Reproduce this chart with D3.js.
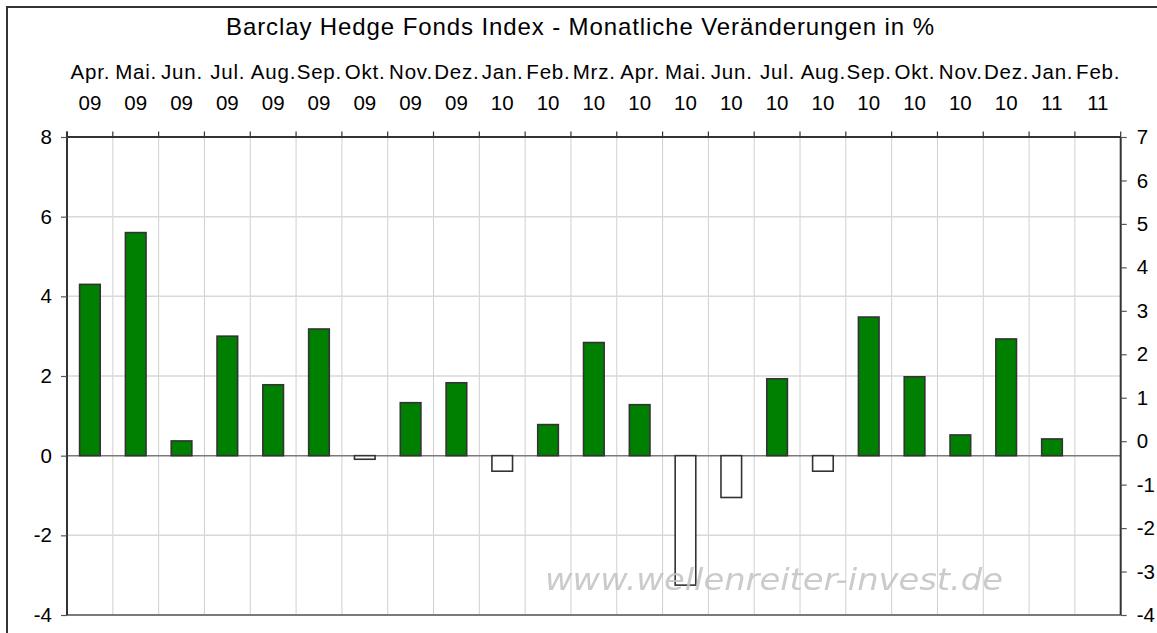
<!DOCTYPE html>
<html><head><meta charset="utf-8">
<script src="https://cdn.jsdelivr.net/npm/d3@7"></script>
<style>
html,body{margin:0;padding:0;background:#fff;}
svg{display:block;font-family:"Liberation Sans",Arial,sans-serif;}
</style></head>
<body>
<svg id="chart" width="1157" height="633"></svg>
<script>
const months = ["Apr.","Mai.","Jun.","Jul.","Aug.","Sep.","Okt.","Nov.","Dez.","Jan.","Feb.","Mrz.","Apr.","Mai.","Jun.","Jul.","Aug.","Sep.","Okt.","Nov.","Dez.","Jan.","Feb."];
const years = ["09","09","09","09","09","09","09","09","09","10","10","10","10","10","10","10","10","10","10","10","10","11","11"];
const values = [4.3,5.6,0.37,3.0,1.78,3.18,-0.09,1.33,1.83,-0.39,0.78,2.84,1.28,-3.25,-1.05,1.93,-0.39,3.48,1.98,0.52,2.93,0.42,null];
const leftTicks = [-4,-2,0,2,4,6,8];
const rightTicks = [-4,-3,-2,-1,0,1,2,3,4,5,6,7];
const gridTicks = [-2,2,4,6];
const title = "Barclay Hedge Fonds Index - Monatliche Veränderungen in %";
const watermark = "www.wellenreiter-invest.de";

const categories = months.map((m,i)=>m+" "+years[i]);
const L=67, R=1120.7, T=137, B=615;
const svg = d3.select("#chart");
const fmt = d => String(d);

svg.append("defs").append("filter").attr("id","soft")
  .append("feGaussianBlur").attr("stdDeviation",0.6);

// outer frame
svg.append("rect").attr("x",7).attr("y",7).attr("width",1170).attr("height",700)
  .attr("fill","none").attr("stroke","#333").attr("stroke-width",2);

const x = d3.scaleBand().domain(categories).range([L,R]).paddingInner(0).paddingOuter(0);
const y = d3.scaleLinear().domain([-4,8]).range([B,T]);
const yR = d3.scaleLinear().domain([-4,7]).range([B,T]);
const bw = x.bandwidth();
const bounds = categories.map(c=>x(c)).concat([R]);

// vertical grid
svg.append("g").selectAll("line").data(bounds.slice(1,-1)).join("line")
  .attr("x1",d=>d).attr("x2",d=>d).attr("y1",T).attr("y2",B)
  .attr("stroke","#d0d0d0").attr("stroke-width",1);
// horizontal grid
svg.append("g").selectAll("line").data(gridTicks).join("line")
  .attr("x1",L).attr("x2",R).attr("y1",d=>y(d)).attr("y2",d=>y(d))
  .attr("stroke","#d9d9d9").attr("stroke-width",1.5);

// zero line
svg.append("line").attr("x1",L).attr("x2",R).attr("y1",y(0)).attr("y2",y(0))
  .attr("stroke","#7a7a7a").attr("stroke-width",1.5);
// bottom line
svg.append("line").attr("x1",L).attr("x2",R).attr("y1",B).attr("y2",B)
  .attr("stroke","#7a7a7a").attr("stroke-width",2);

// bars
const barW = bw*0.45;
svg.append("g").selectAll("rect").data(values.map((v,i)=>({c:categories[i],v})).filter(d=>d.v!==null)).join("rect")
  .attr("x",d=>x(d.c)+(bw-barW)/2)
  .attr("width",barW)
  .attr("y",d=>y(Math.max(0,d.v)))
  .attr("height",d=>Math.abs(y(d.v)-y(0)))
  .attr("fill",d=>d.v>=0?"#008000":"#ffffff")
  .attr("stroke","#333").attr("stroke-width",1.6);

// top axis line and ticks
svg.append("line").attr("x1",L).attr("x2",R).attr("y1",T).attr("y2",T)
  .attr("stroke","#333").attr("stroke-width",2);
svg.append("g").selectAll("line").data(bounds).join("line")
  .attr("x1",d=>d).attr("x2",d=>d).attr("y1",T-5.5).attr("y2",T)
  .attr("stroke","#333").attr("stroke-width",1.2);
// left/right axis lines
svg.append("line").attr("x1",L).attr("x2",L).attr("y1",T-5.5).attr("y2",B)
  .attr("stroke","#333").attr("stroke-width",2);
svg.append("line").attr("x1",R).attr("x2",R).attr("y1",T).attr("y2",B)
  .attr("stroke","#333").attr("stroke-width",2);

// top labels
const lab = svg.append("g").attr("font-size",20.5).attr("fill","#000").attr("text-anchor","middle");
lab.selectAll("text.m").data(categories).join("text").attr("class","m")
  .attr("x",d=>x(d)+bw/2+0.4).attr("y",79).attr("letter-spacing",0.8).text((d,i)=>months[i]);
lab.selectAll("text.yr").data(categories).join("text").attr("class","yr")
  .attr("x",d=>x(d)+bw/2).attr("y",110).text((d,i)=>years[i]);

// left axis
const ga = svg.append("g").attr("transform",`translate(${L},0)`)
  .call(d3.axisLeft(y).tickValues(leftTicks).tickFormat(fmt).tickSize(6).tickPadding(9).tickSizeOuter(0));
ga.select(".domain").remove();
ga.selectAll("line").attr("stroke","#555").attr("stroke-width",1.2);
ga.selectAll("text").attr("font-size",20.5).attr("font-family","Liberation Sans, Arial").attr("fill","#000");

// right axis
const gr = svg.append("g").attr("transform",`translate(${R},0)`)
  .call(d3.axisRight(yR).tickValues(rightTicks).tickFormat(fmt).tickSize(6).tickPadding(10).tickSizeOuter(0));
gr.select(".domain").remove();
gr.selectAll("line").attr("stroke","#555").attr("stroke-width",1.2);
gr.selectAll("text").attr("font-size",20.5).attr("font-family","Liberation Sans, Arial").attr("fill","#000");

// title
svg.append("text").attr("x",226).attr("y",35)
  .attr("font-size",24).attr("fill","#000")
  .attr("textLength",708).attr("lengthAdjust","spacing").text(title);

// watermark
svg.append("text").attr("x",545).attr("y",590)
  .attr("font-size",31).attr("font-style","italic").attr("font-family","DejaVu Sans, Verdana")
  .attr("textLength",458).attr("lengthAdjust","spacingAndGlyphs")
  .attr("filter","url(#soft)")
  .attr("fill","#c2c2c2").attr("opacity",0.85).text(watermark);
</script>
</body></html>
